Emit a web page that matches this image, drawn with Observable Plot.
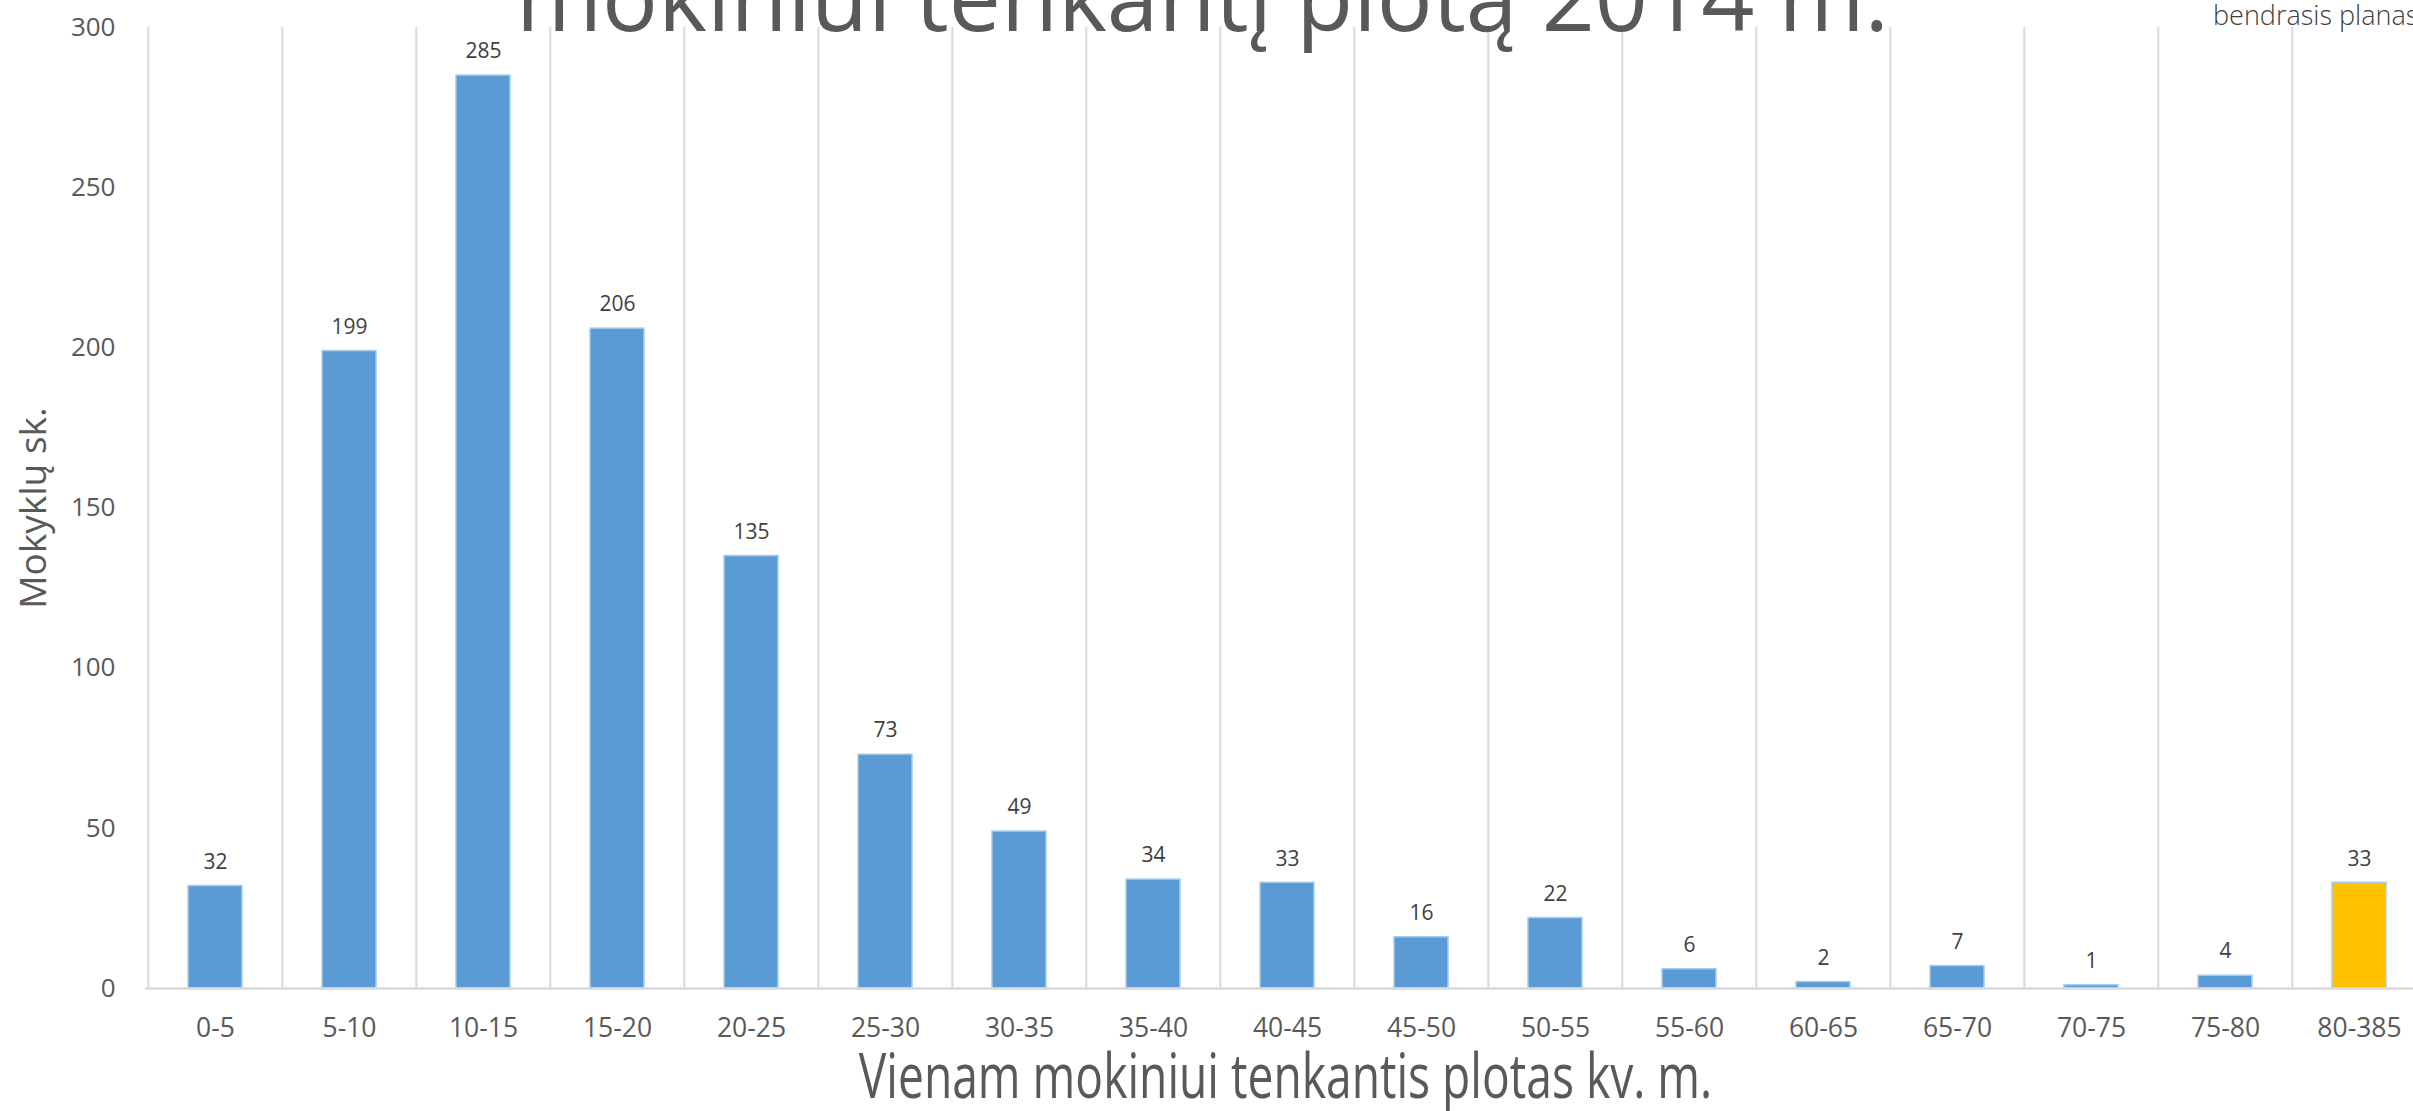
<!DOCTYPE html>
<html>
<head>
<meta charset="utf-8">
<script src="https://cdn.jsdelivr.net/npm/d3@7"></script>
<script src="https://cdn.jsdelivr.net/npm/@observablehq/plot@0.6"></script>
<style>
  html, body { margin: 0; padding: 0; background: #fff; overflow: hidden; }
  #wrap { position: relative; width: 2413px; height: 1111px; overflow: hidden; }
  #chart svg { max-width: none !important; height: 1111px !important; }
  #title {
    position: absolute; left: 516px; top: -51px;
    font: 400 93px/1 "Open Sans", sans-serif; color: #595959; white-space: nowrap;
  }
  #note {
    position: absolute; left: 2213px; top: 1px;
    font: 300 27px/1 "Open Sans", sans-serif; color: #404040; white-space: nowrap;
  }
</style>
</head>
<body>
<div id="wrap">
  <div id="chart"></div>
  <div id="title">mokiniui tenkantį plotą 2014 m.</div>
  <div id="note">bendrasis planas</div>
</div>
<script>
// Area per pupil (sq. m) ranges and number of schools in each range
const categories = ["0-5", "5-10", "10-15", "15-20", "20-25", "25-30", "30-35", "35-40", "40-45",
  "45-50", "50-55", "55-60", "60-65", "65-70", "70-75", "75-80", "80-385"];
const counts = [32, 199, 285, 206, 135, 73, 49, 34, 33, 16, 22, 6, 2, 7, 1, 4, 33];
const highlighted = ["80-385"];
const yTicks = [0, 50, 100, 150, 200, 250, 300];
const xTitle = "Vienam mokiniui tenkantis plotas kv. m.";
const yTitle = "Mokyklų sk.";

const data = categories.map((range, i) => ({range, count: counts[i]}));

const W = 2440, H = 1111;
const mLeft = 145, mRight = 11, mTop = 27, mBottom = 123;
const step = (W - mLeft - mRight) / categories.length;

const chart = Plot.plot({
  width: W,
  height: H,
  marginLeft: mLeft,
  marginRight: mRight,
  marginTop: mTop,
  marginBottom: mBottom,
  style: {fontFamily: "'Open Sans', sans-serif", color: "#595959", background: "#fff", maxWidth: "none"},
  x: {type: "band", domain: categories, paddingInner: 0.6, paddingOuter: 0.3},
  y: {domain: [0, 300]},
  marks: [
    // category separators
    Plot.ruleX(categories, {x: d => d, dx: -step / 2, y1: 0, y2: 300, stroke: "#d9d9d9", strokeWidth: 2}),
    Plot.barY(data, {
      x: "range", y: "count",
      fill: d => highlighted.includes(d.range) ? "#FFC000" : "#5B9BD5",
      stroke: "#a8cbea", strokeWidth: 1.5
    }),
    Plot.ruleY([0], {stroke: "#d9d9d9", strokeWidth: 2.5}),
    Plot.text(data, {
      x: "range", y: "count", text: d => String(d.count),
      lineAnchor: "middle", dy: -24, fontSize: 21, fill: "#404040"
    }),
    Plot.axisY(yTicks, {tickSize: 0, tickPadding: 30, fontSize: 26, label: null}),
    Plot.axisX({tickSize: 0, tickPadding: 30, fontSize: 26.5, label: null}),
    Plot.text([yTitle], {
      frameAnchor: "left", rotate: -90, dx: -111, textAnchor: "middle", lineAnchor: "middle",
      fontSize: 37, fill: "#595959"
    }),
    Plot.text([xTitle], {
      frameAnchor: "bottom", dy: 90, dx: -2, textAnchor: "middle", lineAnchor: "middle",
      fontSize: 62, fill: "#595959"
    })
  ]
});

// the x-axis title is set in a condensed face: narrow it around its centre
d3.select(chart).selectAll("text")
  .filter(function () { return this.textContent === xTitle; })
  .attr("transform", function () { return (this.getAttribute("transform") || "") + " scale(0.745,1)"; });

document.getElementById("chart").appendChild(chart);
</script>
</body>
</html>
